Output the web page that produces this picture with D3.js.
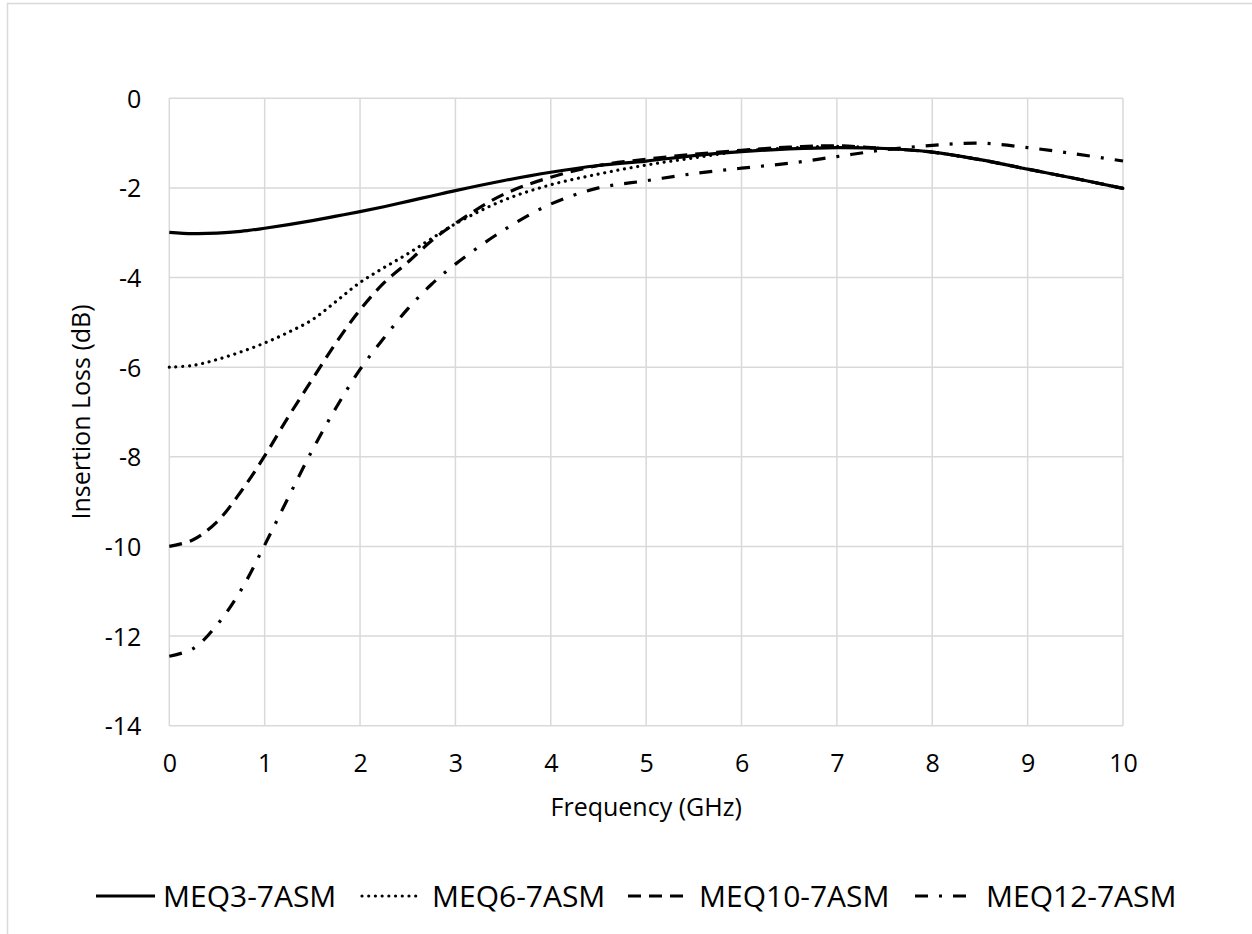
<!DOCTYPE html>
<html>
<head>
<meta charset="utf-8">
<script src="https://cdn.jsdelivr.net/npm/d3@7"></script>
<style>
  html, body { margin: 0; padding: 0; background: #fff; }
  svg { display: block; font-family: "Open Sans", sans-serif; }
</style>
</head>
<body>
<svg width="1252" height="934"></svg>
<script>
// frequency points (GHz)
const freqs = [0, 0.25, 0.5, 0.75, 1, 1.25, 1.5, 1.75, 2, 2.25, 2.5, 2.75, 3, 3.5, 4, 4.5, 5, 5.5, 6, 6.5, 7, 7.5, 8, 8.5, 9, 9.5, 10];

// insertion loss (dB)
const meq3 = [-2.99, -3.02, -3.01, -2.97, -2.90, -2.82, -2.73, -2.63, -2.53, -2.42, -2.30, -2.18, -2.06, -1.84, -1.65, -1.50, -1.40, -1.28, -1.19, -1.13, -1.10, -1.12, -1.20, -1.37, -1.58, -1.79, -2.01];
const meq6 = [-6.00, -5.96, -5.83, -5.66, -5.46, -5.22, -4.94, -4.53, -4.11, -3.78, -3.47, -3.13, -2.80, -2.28, -1.93, -1.69, -1.49, -1.33, -1.18, -1.11, -1.07, -1.12, -1.20, -1.37, -1.58, -1.79, -2.01];
const meq10 = [-10.00, -9.85, -9.45, -8.78, -7.98, -7.10, -6.27, -5.45, -4.72, -4.12, -3.66, -3.18, -2.79, -2.15, -1.76, -1.50, -1.36, -1.25, -1.16, -1.09, -1.06, -1.12, -1.20, -1.37, -1.58, -1.79, -2.01];
const meq12 = [-12.45, -12.28, -11.75, -10.98, -9.97, -8.90, -7.85, -6.90, -6.05, -5.35, -4.70, -4.15, -3.70, -2.95, -2.36, -2.00, -1.84, -1.68, -1.56, -1.45, -1.30, -1.15, -1.05, -1.00, -1.10, -1.24, -1.40];

const seriesNames = ["MEQ3-7ASM", "MEQ6-7ASM", "MEQ10-7ASM", "MEQ12-7ASM"];
const seriesValues = [meq3, meq6, meq10, meq12];

const xTicks = [0, 1, 2, 3, 4, 5, 6, 7, 8, 9, 10];
const yTicks = [0, -2, -4, -6, -8, -10, -12, -14];

// line styles per series: solid, round dot, dash, dash-dot
const styles = [
  { dash: null, cap: "butt" },
  { dash: "0.01 6.7", cap: "round" },
  { dash: "13 8", cap: "butt" },
  { dash: "13 11 3 11", cap: "butt" }
];

const svg = d3.select("svg");
const grid = "#d9d9d9";

// outer chart frame (runs past the right and bottom edges)
svg.append("rect")
  .attr("x", 7.5).attr("y", 3.5)
  .attr("width", 1400).attr("height", 1100)
  .attr("fill", "none").attr("stroke", grid).attr("stroke-width", 1.5);

const plotLeft = 169.3, plotRight = 1123, plotTop = 98.3, plotBottom = 725.7;

const x = d3.scaleLinear().domain([0, 10]).range([plotLeft, plotRight]);
const y = d3.scaleLinear().domain([-14, 0]).range([plotBottom, plotTop]);

// gridlines
svg.append("g")
  .selectAll("line")
  .data(xTicks)
  .join("line")
  .attr("x1", d => x(d)).attr("x2", d => x(d))
  .attr("y1", plotTop).attr("y2", plotBottom)
  .attr("stroke", grid).attr("stroke-width", 1.5);

svg.append("g")
  .selectAll("line")
  .data(yTicks)
  .join("line")
  .attr("x1", plotLeft).attr("x2", plotRight)
  .attr("y1", d => y(d)).attr("y2", d => y(d))
  .attr("stroke", grid).attr("stroke-width", 1.5);

// axes (labels only); plain hyphen for negatives like the original
const xAxis = svg.append("g")
  .attr("transform", `translate(0,${plotBottom})`)
  .call(d3.axisBottom(x).tickValues(xTicks).tickFormat(d => `${d}`).tickSize(0).tickPadding(0));
xAxis.select(".domain").remove();
xAxis.selectAll("text")
  .attr("y", 46)
  .attr("dy", null)
  .attr("font-size", 25)
  .attr("font-family", "Open Sans, sans-serif")
  .attr("fill", "#000");

const yAxis = svg.append("g")
  .attr("transform", `translate(${plotLeft},0)`)
  .call(d3.axisLeft(y).tickValues(yTicks).tickFormat(d => `${d}`).tickSize(0).tickPadding(0));
yAxis.select(".domain").remove();
yAxis.selectAll("text")
  .attr("x", -28)
  .attr("dy", "0.36em")
  .attr("font-size", 25)
  .attr("font-family", "Open Sans, sans-serif")
  .attr("fill", "#000");

// axis titles
svg.append("text")
  .attr("x", (plotLeft + plotRight) / 2)
  .attr("y", 816)
  .attr("text-anchor", "middle")
  .attr("font-size", 25)
  .text("Frequency (GHz)");

svg.append("text")
  .attr("transform", `translate(90,${(plotTop + plotBottom) / 2}) rotate(-90)`)
  .attr("text-anchor", "middle")
  .attr("font-size", 25)
  .text("Insertion Loss (dB)");

// series
const line = d3.line()
  .x((d, i) => x(freqs[i]))
  .y(d => y(d))
  .curve(d3.curveCatmullRom.alpha(0.5));

svg.append("g")
  .selectAll("path")
  .data(seriesValues)
  .join("path")
  .attr("d", d => line(d))
  .attr("fill", "none")
  .attr("stroke", "#000")
  .attr("stroke-width", 3.2)
  .attr("stroke-linejoin", "round")
  .attr("stroke-linecap", (d, i) => styles[i].cap)
  .attr("stroke-dasharray", (d, i) => styles[i].dash);

// legend
const legendY = 896;
const legendItems = [
  { x0: 96, x1: 155, tx: 163 },
  { x0: 362, x1: 420, tx: 432 },
  { x0: 628, x1: 691, tx: 699 },
  { x0: 915, x1: 966, tx: 986 }
];

const lg = svg.append("g")
  .selectAll("g")
  .data(seriesNames)
  .join("g");

lg.append("line")
  .attr("x1", (d, i) => legendItems[i].x0)
  .attr("x2", (d, i) => legendItems[i].x1)
  .attr("y1", legendY).attr("y2", legendY)
  .attr("stroke", "#000")
  .attr("stroke-width", 3.2)
  .attr("stroke-linecap", (d, i) => styles[i].cap)
  .attr("stroke-dasharray", (d, i) => styles[i].dash);

lg.append("text")
  .attr("x", (d, i) => legendItems[i].tx)
  .attr("y", legendY + 11)
  .attr("font-size", 30)
  .text(d => d);
</script>
</body>
</html>
